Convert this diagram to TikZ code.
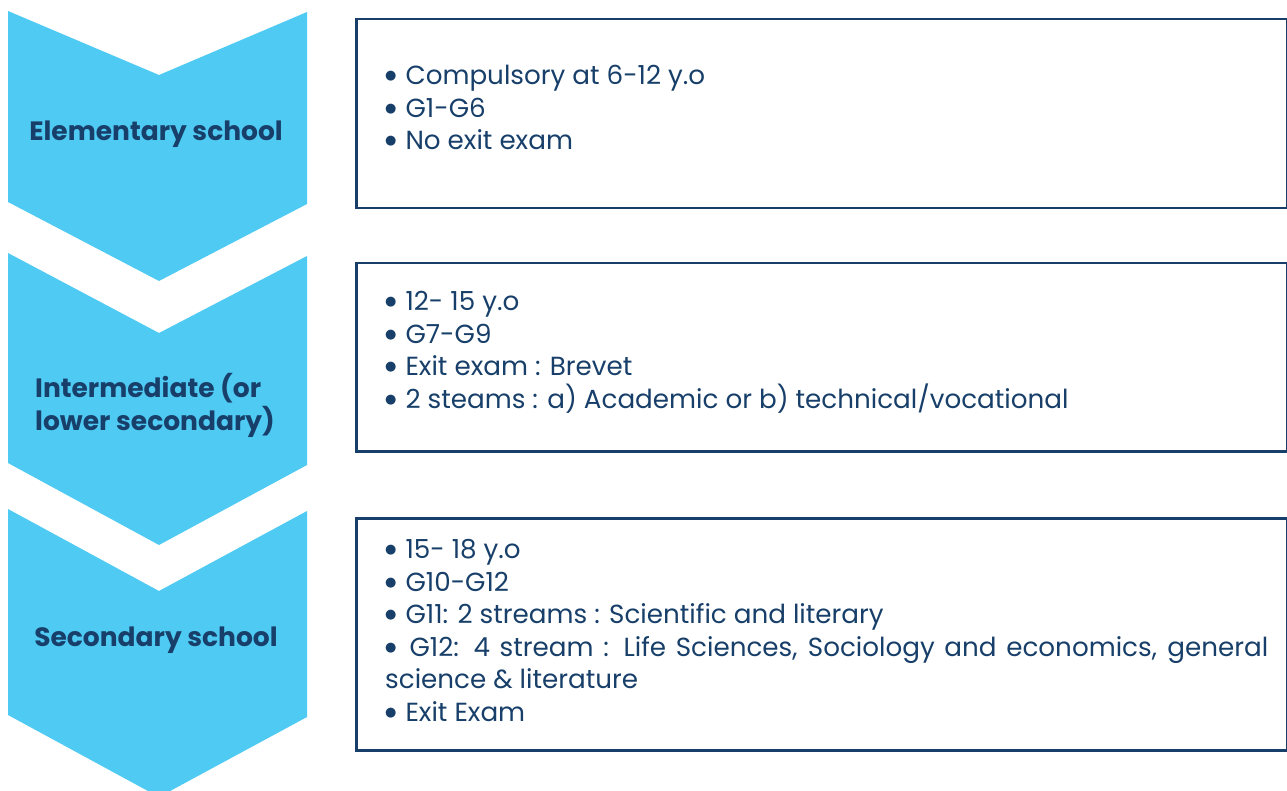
\documentclass[tikz,border=0pt]{standalone}
\usepackage{fontspec}
\setmainfont{Poppins}
\newfontfamily\symfont{DejaVu Sans}
\usepackage{tikz}

\definecolor{chevblue}{HTML}{4FCAF3}
\definecolor{navy}{HTML}{173F69}

\newcommand{\bul}{{\symfont\fontsize{13}{13}\selectfont\raisebox{5pt}{●}}\hspace{9pt}}

\begin{document}
\begin{tikzpicture}[
       x=1pt, y=-1pt,
       chevron/.style={
         fill=chevblue,
         draw=none
       },
       stage/.style={
         text=navy,
         font=\fontsize{26.5}{33}\selectfont\bfseries,
         align=left
       },
       infobox/.style={
         draw=navy,
         line width=2.5pt,
         anchor=north west,
         minimum width=931pt
       },
       boxtext/.style={
         anchor=west,
         inner sep=0pt,
         text=navy,
         font=\fontsize{26.2}{32.5}\selectfont
       }
     ]

       \clip (0,0) rectangle (1287,791);

       % chevrons
       \fill[chevron] (8,11) -- (159,75) -- (307,12) -- (307,204) -- (159,281) -- (8,202) -- cycle;
       \fill[chevron] (8,253) -- (159,333) -- (307,256) -- (307,465) -- (159,545) -- (8,463) -- cycle;
       \fill[chevron] (8,509) -- (159,591) -- (307,511) -- (307,717) -- (159,797) -- (8,715) -- cycle;

       \node[stage] (elem) at (156,134) {Elementary school};
       \node[stage] (inter) at (155,405) {Intermediate (or\\lower secondary)};
       \node[stage] (sec) at (156,640) {Secondary school};

       % boxes
       \node[infobox, minimum height=189pt] (box1) at (355,18) {};
       \node[infobox, minimum height=188pt] (box2) at (355,262) {};
       \node[infobox, minimum height=232pt] (box3) at (355,517) {};

       \node[boxtext] (txt1) at (385,107.5) {%
         \begin{minipage}{883pt}
         \bul Compulsory at 6-12 y.o\par
         \bul G1-G6\par
         \bul No exit exam
         \end{minipage}};

       \node[boxtext] (txt2) at (385,352.5) {%
         \begin{minipage}{883pt}
         \bul 12- 15 y.o\par
         \bul G7-G9\par
         \bul Exit exam : Brevet\par
         \bul 2 steams : a) Academic or b) technical/vocational
         \end{minipage}};

       \node[boxtext] (txt3) at (385,630.5) {%
         \begin{minipage}{883pt}
         \bul 15- 18 y.o\par
         \bul G10-G12\par
         \bul G11: 2 streams : Scientific and literary\par
         \bul\hspace{4pt}G12: 4 stream : Life Sciences, Sociology and economics, general\linebreak
         science \& literature\par
         \bul Exit Exam
         \end{minipage}};

\end{tikzpicture}
\end{document}
